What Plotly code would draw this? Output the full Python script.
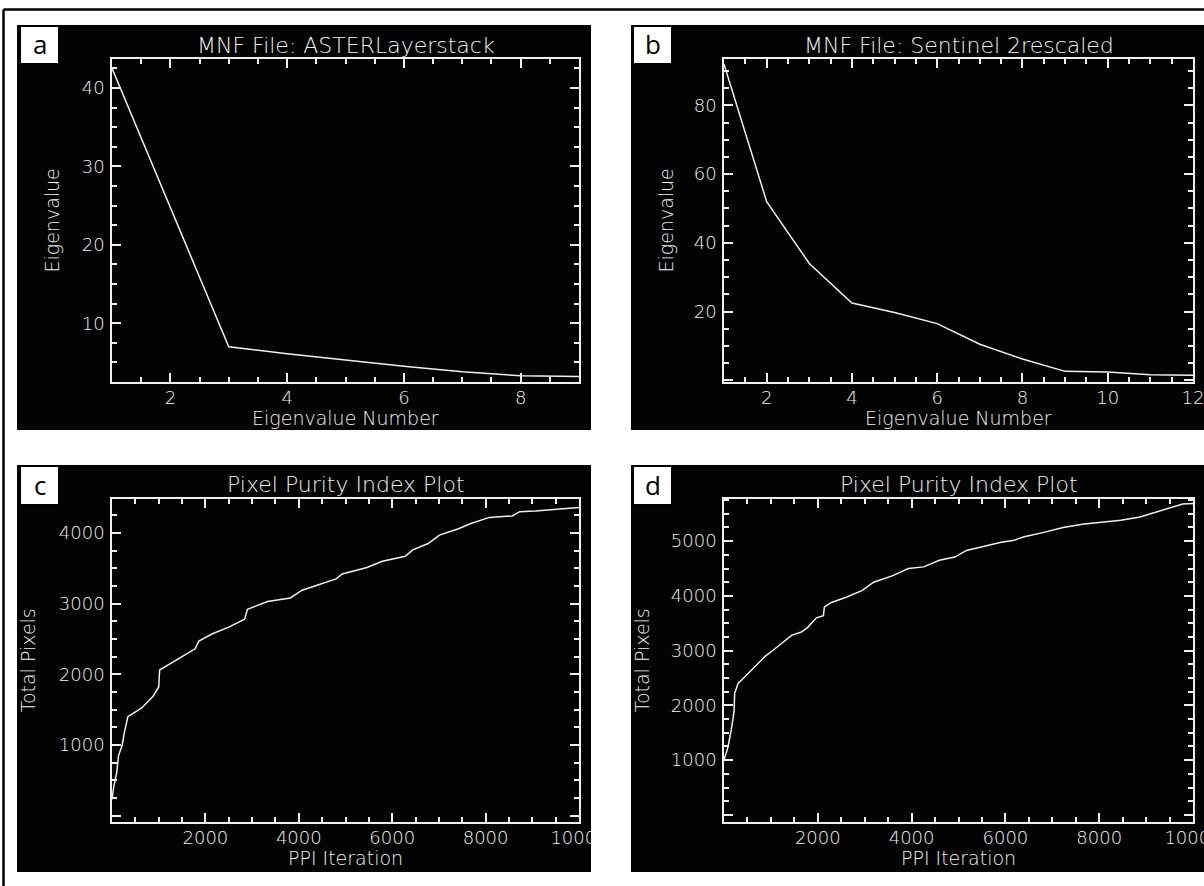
import plotly.graph_objects as go

# ---------------- data ----------------
a_number = [1, 2, 3, 4, 5, 6, 7, 8, 9]
a_eigen = [42.5, 24.8, 7.0, 6.1, 5.3, 4.5, 3.8, 3.3, 3.2]

b_number = [1, 2, 3, 4, 5, 6, 7, 8, 9, 10, 11, 12]
b_eigen = [92.0, 52.0, 34.0, 22.5, 19.7, 16.5, 10.5, 6.2, 2.6, 2.4, 1.6, 1.5]

c_iter = [0, 40, 100, 140, 220, 260, 340, 470, 630, 880, 1000, 1020, 1200, 1450,
          1780, 1860, 2140, 2510, 2840, 2900, 3330, 3820, 4070, 4390, 4800, 4930,
          5460, 5790, 6280, 6440, 6770, 7010, 7420, 7670, 8080, 8570, 8730, 9060,
          9470, 10000]
c_pixels = [230, 420, 600, 850, 1000, 1160, 1400, 1450, 1520, 1690, 1820, 2060,
            2130, 2220, 2360, 2470, 2570, 2670, 2780, 2920, 3030, 3080, 3190, 3260,
            3350, 3420, 3510, 3600, 3670, 3760, 3850, 3970, 4060, 4130, 4220, 4240,
            4300, 4310, 4330, 4360]

d_iter = [0, 85, 156, 213, 228, 300, 440, 580, 730, 870, 1080, 1290, 1440, 1650,
          1790, 1970, 2120, 2140, 2290, 2620, 2950, 3190, 3600, 3930, 4260, 4590,
          4920, 5170, 5580, 5910, 6160, 6400, 6820, 7230, 7640, 8050, 8460, 8870,
          9200, 9530, 9780, 10000]
d_pixels = [1000, 1240, 1560, 1880, 2220, 2400, 2520, 2640, 2760, 2890, 3030, 3180,
            3280, 3340, 3430, 3600, 3640, 3800, 3880, 3980, 4100, 4250, 4370, 4500,
            4530, 4650, 4710, 4830, 4920, 4980, 5010, 5080, 5160, 5250, 5310, 5350,
            5380, 5440, 5530, 5620, 5680, 5690]

panel_letters = ["a", "b", "c", "d"]
titles = ["MNF File: ASTERLayerstack", "MNF File: Sentinel 2rescaled",
          "Pixel Purity Index Plot", "Pixel Purity Index Plot"]
x_titles = ["Eigenvalue Number", "Eigenvalue Number", "PPI Iteration", "PPI Iteration"]
y_titles = ["Eigenvalue", "Eigenvalue", "Total Pixels", "Total Pixels"]

# ---------------- layout helpers ----------------
W, H = 1204, 886


def fx(px):
    return min(px, W) / W


def fy(py):
    return 1 - min(py, H) / H


FONT = "DejaVu Sans"
WHITE = "#f0f0f0"

# plot areas in pixels  (x0, x1, y0(top), y1(bottom))
areas = [(112, 579, 59, 382), (724, 1193, 59, 382),
         (112, 579, 499, 822), (724, 1193, 499, 822)]
# black panels
panels = [(17, 591, 25, 430), (631, 1204, 25, 430),
          (17, 591, 465, 872), (631, 1204, 465, 872)]
# label boxes
boxes = [(20, 59, 26, 64), (633, 672, 26, 64), (20, 59, 466, 505), (633, 672, 466, 505)]

fig = go.Figure()
series = [(a_number, a_eigen), (b_number, b_eigen), (c_iter, c_pixels), (d_iter, d_pixels)]
for i, (xs, ys) in enumerate(series):
    sfx = "" if i == 0 else str(i + 1)
    fig.add_trace(go.Scatter(x=xs, y=ys, mode="lines",
                             line=dict(color=WHITE, width=1.5),
                             xaxis="x" + sfx, yaxis="y" + sfx, showlegend=False,
                             hoverinfo="skip"))

xranges = [[1, 9], [1, 12], [0, 10000], [0, 10000]]
yranges = [[2.5, 43.7], [-0.5, 93.5], [-90, 4480], [-130, 5770]]
xdt = [(2, 0.5), (2, 0.5), (2000, 500), (2000, 500)]
ydt = [(10, 2.5), (20, 5), (1000, 250), (1000, 250)]


def axis_style(rng, dt, mdt, domain, anchor):
    return dict(
        domain=domain, anchor=anchor, range=rng, autorange=False, automargin=False,
        showline=True, linecolor=WHITE, linewidth=1.5, mirror="ticks",
        ticks="inside", ticklen=9, tickwidth=1.5, tickcolor=WHITE,
        tickmode="linear", tick0=0, dtick=dt, tickformat="d",
        labelalias={"0": " "}, ticklabeloverflow="allow",
        showgrid=False, zeroline=False,
        tickfont=dict(family=FONT, size=18, color=WHITE, weight=300),
        minor=dict(ticks="inside", ticklen=5, tickwidth=1.5, tickcolor=WHITE,
                   tick0=0, dtick=mdt, showgrid=False),
    )


lay = {}
for i in range(4):
    sfx = "" if i == 0 else str(i + 1)
    x0, x1, y0, y1 = areas[i]
    xa = axis_style(xranges[i], xdt[i][0], xdt[i][1], [fx(x0), fx(x1)], "y" + sfx)
    xa["ticklabelstandoff"] = -1
    ya = axis_style(yranges[i], ydt[i][0], ydt[i][1], [fy(y1), fy(y0)], "x" + sfx)
    ya["ticklabelstandoff"] = 2
    lay["xaxis" + sfx] = xa
    lay["yaxis" + sfx] = ya

shapes = []
# outer border (top and left edges of the framed figure)
shapes.append(dict(type="line", xref="paper", yref="paper", x0=fx(3.5), x1=1,
                   y0=fy(9.5), y1=fy(9.5), line=dict(color="black", width=2.5),
                   layer="below"))
shapes.append(dict(type="line", xref="paper", yref="paper", x0=fx(3.5), x1=fx(3.5),
                   y0=fy(9.5), y1=0, line=dict(color="black", width=2.5),
                   layer="below"))
for (x0, x1, y0, y1) in panels:
    shapes.append(dict(type="rect", xref="paper", yref="paper", x0=fx(x0), x1=fx(x1),
                       y0=fy(y1), y1=fy(y0), line=dict(width=0), fillcolor="#030303",
                       layer="below"))
# clip overflowing tick label of panel c at the panel edge
shapes.append(dict(type="rect", xref="paper", yref="paper", x0=fx(591), x1=fx(630),
                   y0=fy(850), y1=fy(823), line=dict(width=0), fillcolor="white",
                   layer="above"))
for (x0, x1, y0, y1) in boxes:
    shapes.append(dict(type="rect", xref="paper", yref="paper", x0=fx(x0), x1=fx(x1),
                       y0=fy(y1), y1=fy(y0), line=dict(color="black", width=2),
                       fillcolor="white", layer="above"))

ann = []
for i in range(4):
    x0, x1, y0, y1 = areas[i]
    px0, px1, py0, py1 = panels[i]
    bx0, bx1, by0, by1 = boxes[i]
    cx = (x0 + x1) / 2
    ann.append(dict(text=titles[i], x=fx(cx), y=fy(py0 + 20), xref="paper", yref="paper",
                    showarrow=False, xanchor="center", yanchor="middle",
                    font=dict(family=FONT, size=22, color=WHITE, weight=300)))
    ann.append(dict(text=x_titles[i], x=fx(cx), y=fy(y1 + 36), xref="paper", yref="paper",
                    showarrow=False, xanchor="center", yanchor="middle",
                    font=dict(family=FONT, size=19, color=WHITE, weight=300)))
    ycx = px0 + (34 if i < 2 else 10)
    ann.append(dict(text=y_titles[i], x=fx(ycx), y=fy((y0 + y1) / 2), xref="paper",
                    yref="paper", showarrow=False, xanchor="center", yanchor="middle",
                    textangle=-90, font=dict(family=FONT, size=19, color=WHITE, weight=300)))
    ann.append(dict(text=panel_letters[i], x=fx((bx0 + bx1) / 2), y=fy((by0 + by1) / 2 - 1),
                    xref="paper", yref="paper", showarrow=False, xanchor="center",
                    yanchor="middle", font=dict(family="Open Sans", size=26, color="black")))

fig.update_layout(width=W, height=H, margin=dict(l=0, r=0, t=0, b=0, autoexpand=False),
                  paper_bgcolor="white", plot_bgcolor="#030303",
                  shapes=shapes, annotations=ann, **lay)

fig.write_html("out.html", config={"displayModeBar": False})
